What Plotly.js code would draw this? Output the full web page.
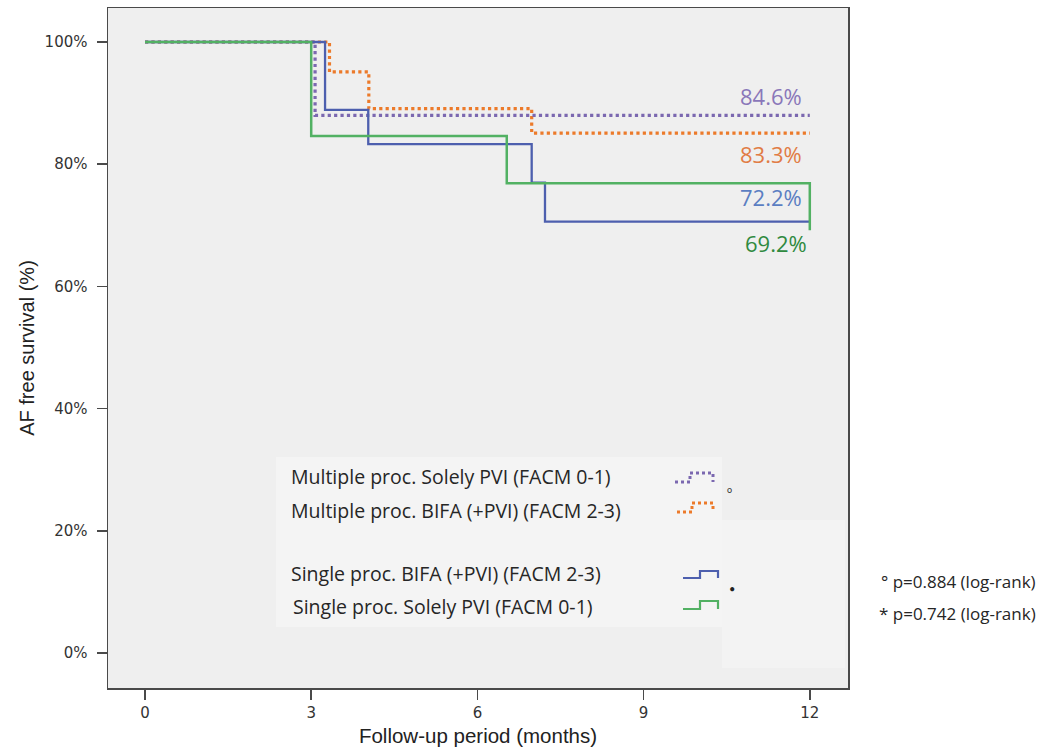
<!DOCTYPE html>
<html>
<head>
<meta charset="utf-8">
<script src="https://cdn.plot.ly/plotly-3.0.1.min.js"></script>
<style>html,body{margin:0;padding:0;background:#fff;}#chart{width:1041px;height:749px;}</style>
</head>
<body>
<div id="chart"></div>
<script>
// ---- data (months, AF-free survival %) ----
const singleSolelyX = [0, 3.0, 6.53, 12, 12];
const singleSolelyY = [100, 84.6, 76.9, 76.9, 69.2];

const singleBifaX = [0, 3.25, 4.03, 6.98, 7.22, 12];
const singleBifaY = [100, 88.9, 83.3, 77.0, 70.6, 70.6];

const multiSolelyX = [0, 3.07, 12];
const multiSolelyY = [100, 88.0, 88.0];

const multiBifaX = [0, 3.33, 4.04, 6.98, 12];
const multiBifaY = [100, 95.1, 89.1, 85.1, 85.1];

const xTickVals = [0, 3, 6, 9, 12];
const xTickText = ['0', '3', '6', '9', '12'];
const yTickVals = [0, 20, 40, 60, 80, 100];
const yTickText = ['0%', '20%', '40%', '60%', '80%', '100%'];

const endLabels = ['84.6%', '83.3%', '72.2%', '69.2%'];
const legendLabels = [
  'Multiple proc. Solely PVI (FACM 0-1)',
  'Multiple proc. BIFA (+PVI) (FACM 2-3)',
  'Single proc. BIFA (+PVI) (FACM 2-3)',
  'Single proc. Solely PVI (FACM 0-1)'
];
const pLabels = ['° p=0.884 (log-rank)', '* p=0.742 (log-rank)'];

// ---- styles ----
const cPurple = '#7b68b0', cOrange = '#ec7a2a', cBlue = '#4d5fae', cGreen = '#52b163';
const lblPurple = '#8a77b9', lblOrange = '#e17c45', lblBlue = '#5b7ec2', lblGreen = '#2f8a3f';
const txtFont = '"Open Sans", Lato, sans-serif';

// pixel -> data helpers (for placing decorations only)
const mx = px => (px - 145) / 55.4;
const my = py => (653 - py) / 6.11;

const traces = [
  {x: multiBifaX, y: multiBifaY, mode: 'lines', line: {shape: 'hv', color: cOrange, width: 3.2, dash: 'dot'}, hoverinfo: 'skip'},
  {x: multiSolelyX, y: multiSolelyY, mode: 'lines', line: {shape: 'hv', color: cPurple, width: 3.2, dash: 'dot'}, hoverinfo: 'skip'},
  {x: singleBifaX, y: singleBifaY, mode: 'lines', line: {shape: 'hv', color: cBlue, width: 2.3}, hoverinfo: 'skip'},
  {x: singleSolelyX, y: singleSolelyY, mode: 'lines', line: {shape: 'hv', color: cGreen, width: 2.5}, hoverinfo: 'skip'}
];

function stepPath(x1, x2, x3, yl, yh) {
  return `M ${mx(x1)},${my(yl)} L ${mx(x2)},${my(yl)} L ${mx(x2)},${my(yh)} L ${mx(x3)},${my(yh)} L ${mx(x3)},${my(yl)}`;
}

const shapes = [
  {type: 'rect', xref: 'x', yref: 'y', x0: mx(276), x1: mx(722), y0: my(627), y1: my(457), fillcolor: '#f4f4f4', line: {width: 0}, layer: 'below'},
  {type: 'rect', xref: 'x', yref: 'y', x0: mx(722), x1: mx(845), y0: my(668), y1: my(520), fillcolor: '#f3f3f3', line: {width: 0}, layer: 'below'},
  {type: 'path', xref: 'x', yref: 'y', path: stepPath(675, 690, 713, 482, 473), line: {color: cPurple, width: 3, dash: 'dot'}},
  {type: 'path', xref: 'x', yref: 'y', path: stepPath(677, 692, 713, 512, 503), line: {color: cOrange, width: 3, dash: 'dot'}},
  {type: 'path', xref: 'x', yref: 'y', path: stepPath(683, 700, 718, 578, 571), line: {color: cBlue, width: 2.2}},
  {type: 'path', xref: 'x', yref: 'y', path: stepPath(683, 700, 718, 609, 601), line: {color: cGreen, width: 2.2}}
];

const annotations = [];
const endPos = [[804, 96, lblPurple], [804, 154, lblOrange], [804, 197, lblBlue], [809, 243, lblGreen]];
endLabels.forEach((t, i) => {
  annotations.push({x: mx(endPos[i][0]), y: my(endPos[i][1]), xref: 'x', yref: 'y', text: t, showarrow: false,
    xanchor: 'right', yanchor: 'middle', font: {family: txtFont, size: 22, color: endPos[i][2]}});
});
const legPos = [[289, 476], [289, 510], [289, 573], [291, 606]];
legendLabels.forEach((t, i) => {
  annotations.push({x: mx(legPos[i][0]), y: my(legPos[i][1]), xref: 'x', yref: 'y', text: t, showarrow: false,
    xanchor: 'left', yanchor: 'middle', font: {family: txtFont, size: 19.5, color: '#262626'}});
});
annotations.push({x: mx(729), y: my(489), xref: 'x', yref: 'y', text: 'o', showarrow: false, xanchor: 'center', yanchor: 'middle',
  font: {family: 'Lato, sans-serif', size: 9, color: '#333'}});
annotations.push({x: mx(732), y: my(588), xref: 'x', yref: 'y', text: '•', showarrow: false, xanchor: 'center', yanchor: 'middle',
  font: {family: 'Lato, sans-serif', size: 11, color: '#222'}});
const pPos = [[879, 581], [877, 613]];
pLabels.forEach((t, i) => {
  annotations.push({x: (pPos[i][0] - 108) / 740, y: (688 - pPos[i][1]) / 680, xref: 'paper', yref: 'paper', text: t, showarrow: false,
    xanchor: 'left', yanchor: 'middle', font: {family: txtFont, size: 17, color: '#262626'}});
});

const layout = {
  width: 1041, height: 749,
  margin: {l: 108, r: 193, t: 8, b: 61, pad: 0},
  paper_bgcolor: '#ffffff',
  plot_bgcolor: '#efefef',
  showlegend: false,
  xaxis: {
    range: [mx(108), mx(848)], tickvals: xTickVals, ticktext: xTickText,
    showgrid: false, zeroline: false, showline: true, mirror: true, linecolor: '#4a4a4a', linewidth: 1.5,
    ticks: 'outside', ticklen: 10, tickwidth: 1.5, tickcolor: '#4a4a4a',
    tickfont: {family: '"DejaVu Sans", sans-serif', size: 15, color: '#333'},
    title: {text: 'Follow-up period (months)', font: {family: '"Liberation Sans", Arial, sans-serif', size: 20.5, color: '#222'}, standoff: 8}
  },
  yaxis: {
    range: [my(688), my(8)], tickvals: yTickVals, ticktext: yTickText,
    showgrid: false, zeroline: false, showline: true, mirror: true, linecolor: '#4a4a4a', linewidth: 1.5,
    ticks: 'outside', ticklen: 10, tickwidth: 1.5, tickcolor: '#4a4a4a', ticklabelstandoff: 6,
    tickfont: {family: '"DejaVu Sans", sans-serif', size: 15, color: '#333'},
    title: {text: 'AF free survival (%)', font: {family: '"Liberation Sans", Arial, sans-serif', size: 20, color: '#222'}, standoff: 4}
  },
  shapes: shapes,
  annotations: annotations
};

Plotly.newPlot('chart', traces, layout, {displayModeBar: false, staticPlot: true});
</script>
</body>
</html>
